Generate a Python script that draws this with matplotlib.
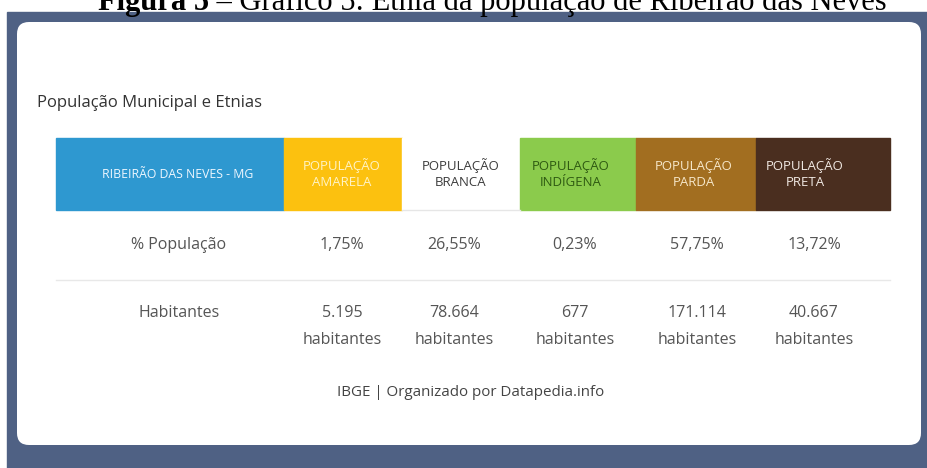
import matplotlib.pyplot as plt
from matplotlib.patches import FancyBboxPatch, Rectangle

# table content
headers = ["RIBEIRÃO DAS NEVES - MG", "POPULAÇÃO\nAMARELA", "POPULAÇÃO\nBRANCA",
           "POPULAÇÃO\nINDÍGENA", "POPULAÇÃO\nPARDA", "POPULAÇÃO\nPRETA"]
row_labels = ["% População", "Habitantes"]
percent = ["1,75%", "26,55%", "0,23%", "57,75%", "13,72%"]
habitantes = [5195, 78664, 677, 171114, 40667]

caption_bold = "Figura 5"
caption_rest = " – Gráfico 5: Etnia da população de Ribeirão das Neves"
card_title = "População Municipal e Etnias"
source = "IBGE | Organizado por Datapedia.info"

# layout (pixel coords)
col_edges = [56, 284, 402, 520, 636, 756, 890]
header_x = [178, 342, 461, 571, 694, 805]
cell_x = [179, 342, 454, 575, 697, 814]
header_fill = ["#2e98d0", "#fcc10f", "#ffffff", "#8bcb4c", "#a26e20", "#4a2e1f"]
header_text = ["#eef7ff", "#fff3c4", "#3c3c3c", "#2f5a12", "#f6e7c9", "#f1e9e3"]

W, H = 928, 468
fig = plt.figure(figsize=(W / 100, H / 100), dpi=100)
ax = fig.add_axes([0, 0, 1, 1])
ax.set_xlim(0, W)
ax.set_ylim(H, 0)
ax.axis("off")

FONT = "Open Sans"

# frame + card
ax.add_patch(Rectangle((7, 12), W - 7, H - 12, color="#4f6184", zorder=0))
ax.add_patch(FancyBboxPatch((17, 22), 904, 423, boxstyle="round,pad=0,rounding_size=12",
                            fc="white", ec="none", zorder=1))

# caption, cut at the top of the image as in the source
t1 = ax.text(98, 10, caption_bold, family="Liberation Serif", fontweight="bold",
             fontsize=22, va="baseline", ha="left", color="black")
fig.canvas.draw()
bb = t1.get_window_extent().transformed(ax.transData.inverted())
ax.text(bb.x1, 10, caption_rest, family="Liberation Serif", fontsize=22,
        va="baseline", ha="left", color="black")

ax.text(37, 103, card_title, family=FONT, fontsize=12, color="#333333",
        va="center", ha="left")

# header row
top, bottom = 138, 210
for i, (lab, fc, tc) in enumerate(zip(headers, header_fill, header_text)):
    x0, x1 = col_edges[i], col_edges[i + 1]
    ax.add_patch(Rectangle((x0, top), x1 - x0, bottom - top, color=fc, zorder=2))
    ax.text(header_x[i], (top + bottom) / 2, lab, family=FONT,
            fontsize=8.8 if i == 0 else 9.5,
            color=tc, ha="center", va="center", linespacing=1.3, zorder=3)
ax.plot([col_edges[2], col_edges[3]], [bottom, bottom], color="#e6e6e6", lw=1, zorder=3)

# body rows
body_color = "#555555"
fs = 11.5
ax.text(cell_x[0], 245, row_labels[0], family=FONT, fontsize=fs, color=body_color,
        ha="center", va="center", zorder=3)
for x, p in zip(cell_x[1:], percent):
    ax.text(x, 245, p, family=FONT, fontsize=fs, color=body_color,
            ha="center", va="center", zorder=3)

ax.plot([col_edges[0], col_edges[-1]], [280, 280], color="#e8e8e8", lw=1, zorder=3)

ax.text(cell_x[0], 313, row_labels[1], family=FONT, fontsize=fs, color=body_color,
        ha="center", va="center", zorder=3)
for x, h in zip(cell_x[1:], habitantes):
    num = f"{h:,}".replace(",", ".")
    ax.text(x, 313, num, family=FONT, fontsize=fs, color=body_color,
            ha="center", va="center", zorder=3)
    ax.text(x, 340, "habitantes", family=FONT, fontsize=fs, color=body_color,
            ha="center", va="center", zorder=3)

ax.text(471, 392, source, family=FONT, fontsize=10.9, color="#444444",
        ha="center", va="center", zorder=3)

fig.savefig("out.png", dpi=100)
